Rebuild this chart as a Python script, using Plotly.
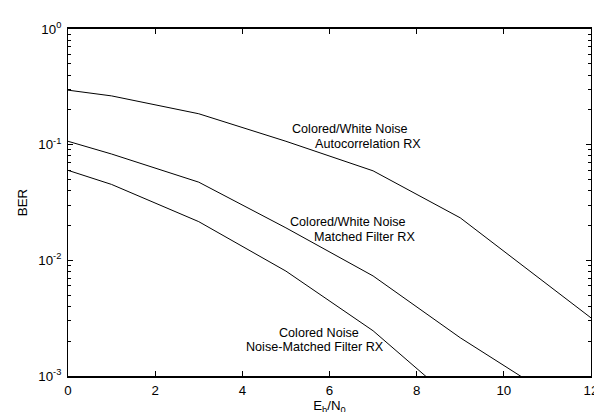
import plotly.graph_objects as go

# Data (Eb/N0 in dB, BER)
ebn0_auto = [0, 1, 3, 5, 7, 9, 12]
ber_auto = [0.296, 0.264, 0.185, 0.107, 0.0594, 0.0233, 0.00318]

ebn0_mf = [0, 1, 3, 5, 7, 9, 11]
ber_mf = [0.107, 0.083, 0.0474, 0.0191, 0.00733, 0.00214, 0.00071]

ebn0_nmf = [0, 1, 3, 5, 7, 9]
ber_nmf = [0.060, 0.0453, 0.0216, 0.00807, 0.00246, 0.00055]

x_ticks = [0, 2, 4, 6, 8, 10, 12]
y_tickvals = [1e-3, 1e-2, 1e-1, 1]
y_ticktext = ["10<sup>-3</sup>", "10<sup>-2</sup>", "10<sup>-1</sup>", "10<sup>0</sup>"]
y_minor = [m * 10.0 ** e for e in (-3, -2, -1) for m in range(2, 10)]

FONT = "Arial, Liberation Sans, sans-serif"
AXFONT = 13.3
line_style = dict(color="black", width=1)

fig = go.Figure()
for xs, ys in ((ebn0_auto, ber_auto), (ebn0_mf, ber_mf), (ebn0_nmf, ber_nmf)):
    fig.add_trace(go.Scatter(x=xs, y=ys, mode="lines", line=line_style,
                             showlegend=False, hoverinfo="skip"))

labels = [
    ("Colored/White Noise", 5.12, -0.866),
    ("Autocorrelation RX", 5.65, -0.992),
    ("Colored/White Noise", 5.08, -1.665),
    ("Matched Filter RX", 5.61, -1.794),
    ("Colored Noise", 4.81, -2.626),
    ("Noise-Matched Filter RX", 4.05, -2.752),
]
for txt, ax_, ay_ in labels:
    fig.add_annotation(text=txt, x=ax_, y=ay_, xref="x", yref="y",
                       xanchor="left", yanchor="middle", showarrow=False,
                       borderpad=0,
                       font=dict(family=FONT, size=12.6, color="black"))

fig.update_layout(
    width=602, height=412,
    margin=dict(l=60, r=14, t=17, b=37),
    paper_bgcolor="white", plot_bgcolor="white",
    font=dict(family=FONT, size=AXFONT, color="black"),
    showlegend=False,
)
fig.update_xaxes(
    range=[0, 12], tickmode="array", tickvals=x_ticks,
    ticktext=[str(v) for v in x_ticks],
    ticks="inside", ticklen=5, tickcolor="black", tickwidth=1,
    showline=True, linecolor="black", linewidth=1.5, mirror="ticks",
    showgrid=False, zeroline=False,
    tickfont=dict(family=FONT, size=AXFONT),
    title=dict(text="E<sub>b</sub>/N<sub>0</sub>", standoff=1,
               font=dict(family=FONT, size=AXFONT)),
    ticklabelstandoff=1,
)
fig.update_yaxes(
    type="log", range=[-3, 0], tickmode="array", tickvals=y_tickvals,
    ticktext=y_ticktext,
    ticks="inside", ticklen=5, tickcolor="black", tickwidth=1,
    minor=dict(tickmode="array", tickvals=y_minor, ticks="inside",
               ticklen=3, tickcolor="black", showgrid=False),
    showline=True, linecolor="black", linewidth=1, mirror="ticks",
    showgrid=False, zeroline=False,
    tickfont=dict(family=FONT, size=AXFONT),
    title=dict(text="BER", standoff=7, font=dict(family=FONT, size=AXFONT)),
    ticklabelstandoff=3,
)

fig.write_html("out.html")
